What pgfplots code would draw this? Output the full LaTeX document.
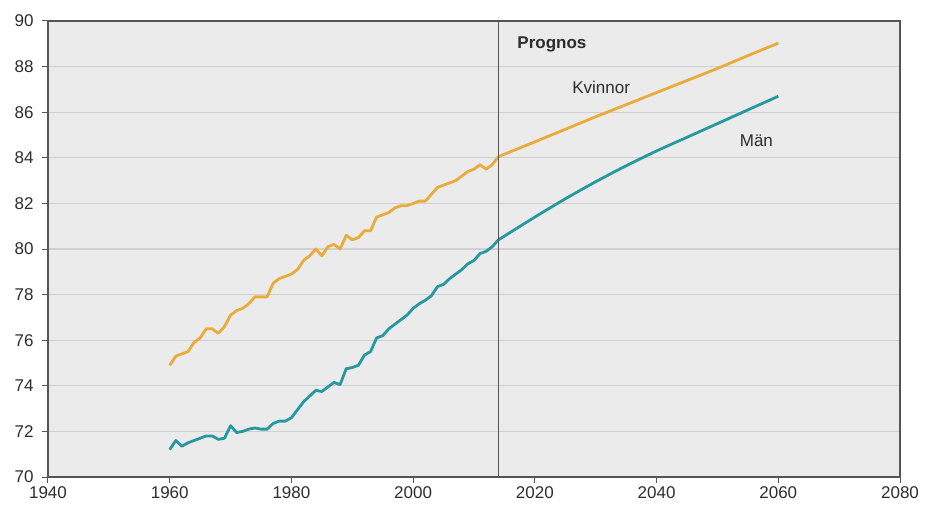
\documentclass[border=0pt]{standalone}
\usepackage{pgfplots}
\pgfplotsset{compat=1.18}
\usepackage{fontspec}
\setmainfont{Liberation Sans}
\definecolor{bgc}{RGB}{235,235,235}
\definecolor{gridc}{RGB}{208,208,208}
\definecolor{axc}{RGB}{85,85,85}
\definecolor{txtc}{RGB}{45,45,45}
\definecolor{kv}{RGB}{233,171,57}
\definecolor{mn}{RGB}{38,153,160}
\pgfplotstableread{
year women men
1960 74.9 71.2
1961 75.3 71.6
1962 75.4 71.35
1963 75.5 71.5
1964 75.9 71.6
1965 76.1 71.7
1966 76.5 71.8
1967 76.5 71.8
1968 76.3 71.65
1969 76.6 71.7
1970 77.1 72.25
1971 77.3 71.95
1972 77.4 72.0
1973 77.6 72.1
1974 77.9 72.15
1975 77.9 72.1
1976 77.9 72.1
1977 78.5 72.35
1978 78.7 72.45
1979 78.8 72.45
1980 78.9 72.6
1981 79.1 72.95
1982 79.5 73.3
1983 79.7 73.55
1984 80.0 73.8
1985 79.7 73.75
1986 80.1 73.95
1987 80.2 74.15
1988 80.0 74.05
1989 80.6 74.75
1990 80.4 74.8
1991 80.5 74.9
1992 80.8 75.35
1993 80.8 75.5
1994 81.4 76.1
1995 81.5 76.2
1996 81.6 76.5
1997 81.8 76.7
1998 81.9 76.9
1999 81.9 77.1
2000 82.0 77.4
2001 82.1 77.6
2002 82.1 77.75
2003 82.4 77.95
2004 82.7 78.35
2005 82.8 78.45
2006 82.9 78.7
2007 83.0 78.9
2008 83.2 79.1
2009 83.4 79.35
2010 83.5 79.5
2011 83.7 79.8
2012 83.5 79.9
2013 83.7 80.1
2014 84.05 80.4
}\hist
\pgfplotstableread{
year women men
2014 84.05 80.4
2020 84.7 81.4
2025 85.25 82.2
2030 85.8 82.95
2035 86.33 83.65
2040 86.86 84.3
2045 87.39 84.9
2050 87.92 85.5
2055 88.48 86.1
2060 89.03 86.7
}\prog
\begin{document}
\begin{tikzpicture}
\path[use as bounding box] (-48pt,-27pt) rectangle (886pt,477pt);
\begin{axis}[
  scale only axis,
  width=852pt, height=456pt,
  xmin=1940, xmax=2080, ymin=70, ymax=90,
  xtick={1940,1960,...,2080},
  ytick={70,72,...,90},
  xtick pos=left, ytick pos=left,
  tick align=outside,
  major tick length=6pt,
  tick style={color=axc, line width=1pt},
  axis line style={color=axc, line width=1.3pt},
  axis background/.style={fill=bgc},
  ymajorgrids,
  major grid style={color=gridc, line width=1.2pt},
  /pgf/number format/assume math mode=true,
  /pgf/number format/1000 sep={},
  ticklabel style={font=\fontsize{17}{20}\selectfont, text=txtc},
  xticklabel style={yshift=-0.5pt},
  yticklabel style={xshift=-5pt},
]
\addplot[color=kv, line width=2.8pt, line join=round] table[x=year, y=women] {\hist};
\addplot[color=mn, line width=2.8pt, line join=round] table[x=year, y=men] {\hist};
\addplot[color=kv, line width=2.8pt, smooth, line join=round] table[x=year, y=women] {\prog};
\addplot[color=mn, line width=2.8pt, smooth, line join=round] table[x=year, y=men] {\prog};
\addplot[color=axc, line width=1.1pt] coordinates {(2014,70) (2014,90)};
\node[font=\bfseries\fontsize{17}{20}\selectfont, text=txtc] at (axis cs:2022.8,88.95) {Prognos};
\node[font=\fontsize{17}{20}\selectfont, text=txtc] at (axis cs:2030.9,87.1) {Kvinnor};
\node[font=\fontsize{17}{20}\selectfont, text=txtc] at (axis cs:2056.4,84.75) {Män};
\end{axis}
\end{tikzpicture}
\end{document}
